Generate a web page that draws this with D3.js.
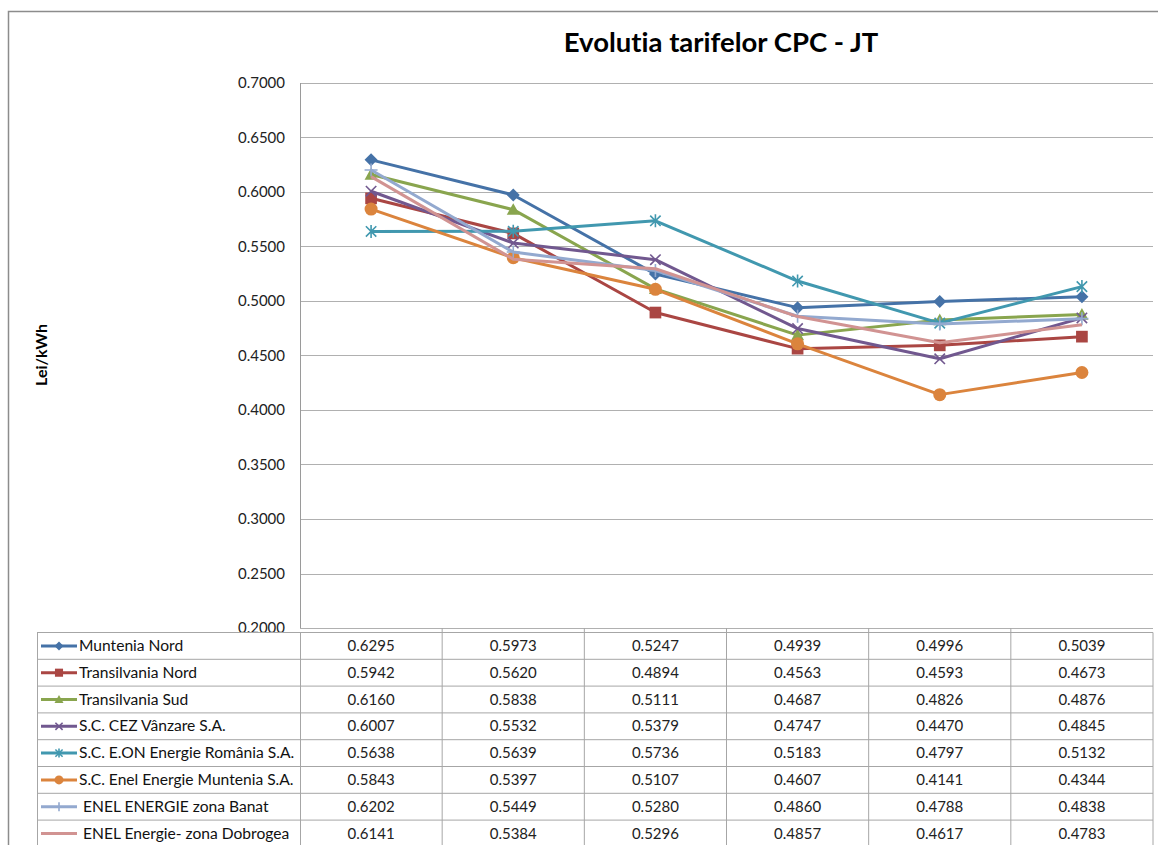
<!DOCTYPE html>
<html><head><meta charset="utf-8">
<script src="https://cdn.jsdelivr.net/npm/d3@7"></script>
<style>body{margin:0;background:#fff;}svg{display:block;font-family:Lato,"Open Sans",sans-serif;font-variant-ligatures:none;}</style>
</head><body>
<svg id="c" width="1158" height="845"></svg>
<script>
const title = "Evolutia tarifelor CPC - JT";
const yLabel = "Lei/kWh";
const periods = ["1","2","3","4","5","6"];
const yTicks = [0.2,0.25,0.3,0.35,0.4,0.45,0.5,0.55,0.6,0.65,0.7];
const seriesNames = ["Muntenia Nord","Transilvania Nord","Transilvania Sud","S.C. CEZ Vânzare S.A.","S.C. E.ON Energie România S.A.","S.C. Enel Energie Muntenia S.A.","ENEL ENERGIE zona Banat","ENEL Energie- zona Dobrogea"];
const munteniaNord = [0.6295,0.5973,0.5247,0.4939,0.4996,0.5039];
const transilvaniaNord = [0.5942,0.5620,0.4894,0.4563,0.4593,0.4673];
const transilvaniaSud = [0.6160,0.5838,0.5111,0.4687,0.4826,0.4876];
const cez = [0.6007,0.5532,0.5379,0.4747,0.4470,0.4845];
const eon = [0.5638,0.5639,0.5736,0.5183,0.4797,0.5132];
const enelMuntenia = [0.5843,0.5397,0.5107,0.4607,0.4141,0.4344];
const enelBanat = [0.6202,0.5449,0.5280,0.4860,0.4788,0.4838];
const enelDobrogea = [0.6141,0.5384,0.5296,0.4857,0.4617,0.4783];
const seriesValues = [munteniaNord,transilvaniaNord,transilvaniaSud,cez,eon,enelMuntenia,enelBanat,enelDobrogea];
const colors = ["#4572A7","#AA4643","#89A54E","#71588F","#4198AF","#DB843D","#93A9CF","#D19392"];
const markers = ["diamond","square","triangle","x","star","circle","plus","none"];

const svg = d3.select("#c");
const L = 300, R = 1153, T = 83, B = 628;
const y = d3.scaleLinear().domain([0.2,0.7]).range([B,T]);
const x = d3.scaleBand().domain(periods).range([L,R]);
const cx = p => x(p) + x.bandwidth()/2;

// outer border
svg.append("path").attr("d","M8.5,845 L8.5,11.5 L1158,11.5").attr("fill","none").attr("stroke","#8c8c8c").attr("stroke-width",1.5);

// title
svg.append("text").attr("x",721).attr("y",52).attr("text-anchor","middle")
  .attr("font-size",27.5).attr("font-weight","bold").attr("fill","#000").text(title);

// y label
svg.append("text").attr("transform","translate(47,355) rotate(-90)").attr("text-anchor","middle")
  .attr("font-size",16).attr("font-weight","bold").text(yLabel);

// gridlines
svg.append("g").selectAll("line").data(yTicks).join("line")
  .attr("x1",L).attr("x2",R).attr("y1",d=>Math.round(y(d))+0.5).attr("y2",d=>Math.round(y(d))+0.5)
  .attr("stroke","#b0b0b0").attr("stroke-width",1.2);
svg.append("g").selectAll("text").data(yTicks).join("text")
  .attr("x",285).attr("y",d=>y(d)+5).attr("text-anchor","end").attr("font-size",15).attr("fill","#222")
  .text(d=>d.toFixed(4));
svg.append("line").attr("x1",L+0.5).attr("x2",L+0.5).attr("y1",T).attr("y2",B).attr("stroke","#9a9a9a");

function markerPath(type, r){
  switch(type){
    case "diamond": return `M0,${-r}L${r},0L0,${r}L${-r},0Z`;
    case "square": {const s=r*0.9; return `M${-s},${-s}H${s}V${s}H${-s}Z`;}
    case "triangle": return `M0,${-r}L${r},${r*0.8}L${-r},${r*0.8}Z`;
    case "x": {const s=r*0.8; return `M${-s},${-s}L${s},${s}M${-s},${s}L${s},${-s}`;}
    case "star": {const s=r*0.8; return `M${-s},${-s}L${s},${s}M${-s},${s}L${s},${-s}M0,${-r}L0,${r}`;}
    case "plus": return `M${-r},0L${r},0M0,${-r}L0,${r}`;
    default: return "";
  }
}
function drawMarker(g, type, color, r){
  if(type==="none") return;
  if(type==="circle"){ g.append("circle").attr("r",r).attr("fill",color); return; }
  const filled = ["diamond","square","triangle"].includes(type);
  g.append("path").attr("d",markerPath(type,r))
    .attr("fill",filled?color:"none").attr("stroke",color).attr("stroke-width",filled?0:1.6);
}

const line = d3.line().x((d,i)=>cx(periods[i])).y(d=>y(d));
seriesValues.forEach((vals,si)=>{
  const g = svg.append("g");
  g.append("path").attr("d",line(vals)).attr("fill","none").attr("stroke",colors[si])
    .attr("stroke-width",3).attr("stroke-linejoin","round");
  vals.forEach((v,i)=>{
    const mg = g.append("g").attr("transform",`translate(${cx(periods[i])},${y(v)})`);
    drawMarker(mg, markers[si], colors[si], 6.5);
  });
});

// data table
const tT = 632.5, rowH = 26.8, tL = 37;
const tb = svg.append("g");
seriesNames.forEach((n,si)=>{
  const ry = tT + si*rowH;
  tb.append("line").attr("x1",tL).attr("x2",R).attr("y1",ry).attr("y2",ry).attr("stroke","#a6a6a6");
  const ky = ry + rowH/2;
  tb.append("line").attr("x1",41).attr("x2",77).attr("y1",ky).attr("y2",ky).attr("stroke",colors[si]).attr("stroke-width",3);
  const mg = tb.append("g").attr("transform",`translate(59,${ky})`);
  drawMarker(mg, markers[si], colors[si], 4.5);
  tb.append("text").attr("x", si>=6?83:79).attr("y",ky+5).attr("font-size",15.6).attr("fill","#111").text(n);
  seriesValues[si].forEach((v,i)=>{
    tb.append("text").attr("x",cx(periods[i])).attr("y",ky+5).attr("text-anchor","middle")
      .attr("font-size",15).attr("fill","#222").text(v.toFixed(4));
  });
});
tb.append("line").attr("x1",tL).attr("x2",R).attr("y1",tT+8*rowH).attr("y2",tT+8*rowH).attr("stroke","#a6a6a6");
[tL+0.5, L+0.5, ...periods.map(p=>x(p)+x.bandwidth())].forEach(vx=>{
  tb.append("line").attr("x1",vx).attr("x2",vx).attr("y1",tT).attr("y2",845).attr("stroke","#a6a6a6");
});
periods.slice(0,-1).forEach(p=>{
  const vx = x(p)+x.bandwidth();
  tb.append("line").attr("x1",vx).attr("x2",vx).attr("y1",B).attr("y2",tT).attr("stroke","#a6a6a6");
});
</script>
</body></html>
